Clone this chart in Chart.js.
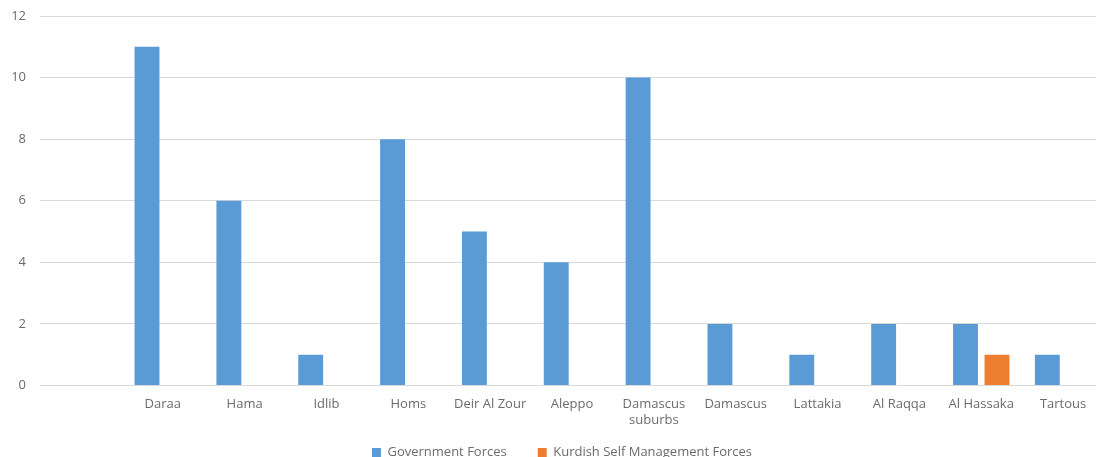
<!DOCTYPE html>
<html>
<head>
<meta charset="utf-8">
<script src="https://cdn.jsdelivr.net/npm/chart.js@4/dist/chart.umd.min.js"></script>
<style>
  html, body { margin: 0; padding: 0; background: #fff; overflow: hidden; }
  #wrap { width: 1130px; height: 469px; position: relative; }
</style>
</head>
<body>
<div id="wrap"><canvas id="c" width="1130" height="469"></canvas></div>
<script>
const categories = ['', 'Daraa', 'Hama', 'Idlib', 'Homs', 'Deir Al Zour', 'Aleppo', ['Damascus', 'suburbs'], 'Damascus', 'Lattakia', 'Al Raqqa', 'Al Hassaka', 'Tartous'];
const governmentForces = [null, 11, 6, 1, 8, 5, 4, 10, 2, 1, 2, 2, 1];
const kurdishForces = [null, 0, 0, 0, 0, 0, 0, 0, 0, 0, 0, 1, 0];
const yTicks = [0, 2, 4, 6, 8, 10, 12];

const FONT = "'Open Sans', 'Noto Sans', sans-serif";
const TEXT = '#6b6b6b';
new Chart(document.getElementById('c'), {
  type: 'bar',
  data: {
    labels: categories,
    datasets: [
      { label: 'Government Forces', data: governmentForces, backgroundColor: '#5B9BD5', categoryPercentage: 0.77, barPercentage: 0.79 },
      { label: 'Kurdish Self Management Forces', data: kurdishForces, backgroundColor: '#ED7D31', categoryPercentage: 0.77, barPercentage: 0.79 }
    ]
  },
  options: {
    responsive: false,
    animation: false,
    layout: { padding: { top: 0, right: 6, left: 0, bottom: 0 } },
    plugins: {
      tooltip: { enabled: false },
      legend: {
        position: 'bottom',
        labels: { boxWidth: 9, boxHeight: 9, padding: 31, color: TEXT, font: { family: FONT, size: 13 } }
      }
    },
    scales: {
      x: {
        afterFit: (s) => { s.height = 29.5; s._computeLabelArea = () => undefined; },
        grid: { display: false, drawTicks: false },
        border: { display: false },
        ticks: { color: TEXT, padding: 11, maxRotation: 0, autoSkip: false, font: { family: FONT, size: 13 } }
      },
      y: {
        min: 0, max: 12,
        afterBuildTicks: (s) => { s.ticks = yTicks.map(v => ({ value: v })); },
        afterFit: (s) => { s.width = 40; s.paddingTop = 16; s.paddingBottom = 8; },
        grid: { color: '#d9d9d9', drawTicks: false },
        border: { display: false },
        ticks: { color: TEXT, padding: 14, font: { family: FONT, size: 13 } }
      },
      yRight: {
        position: 'right',
        min: 0, max: 12,
        afterFit: (s) => { s.width = 20; s.paddingTop = 0; s.paddingBottom = 0; },
        grid: { display: false, drawTicks: false },
        border: { display: false },
        ticks: { display: false }
      }
    }
  }
});
</script>
</body>
</html>
